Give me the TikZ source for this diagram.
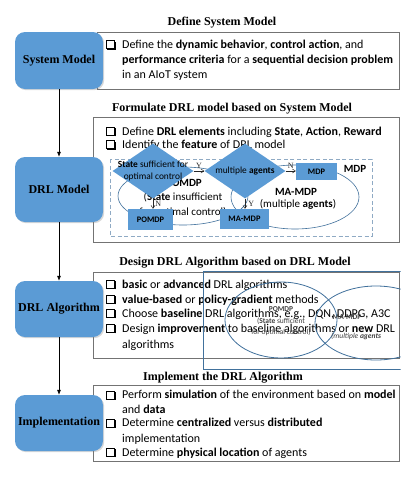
\documentclass[tikz,border=0pt]{standalone}
\usepackage{fontspec}
\setmainfont{Carlito}
\newfontfamily\tmsfont{Liberation Serif}
\usetikzlibrary{shapes.geometric,shadows,arrows.meta}
\definecolor{oblue}{HTML}{5B9BD5}
\definecolor{dblue}{HTML}{41719C}
\definecolor{dashc}{HTML}{8FAAC4}
\newcommand{\cbx}{\makebox[16pt][l]{%
  \rlap{\fboxsep=0pt\fboxrule=0.6pt\fbox{\rule{0pt}{7.4pt}\hspace{7.4pt}}}%
  \rlap{\hspace{8.6pt}\raisebox{-1.3pt}{\rule{1.3pt}{8pt}}}%
  \rlap{\hspace{1.2pt}\raisebox{-1.3pt}{\rule{8.7pt}{1.3pt}}}}}
\tikzset{
  blk/.style={rounded corners=10pt, fill=oblue, minimum width=88pt, inner sep=0pt,
    font=\tmsfont\bfseries\fontsize{12}{14}\selectfont,
    drop shadow={shadow xshift=1.2pt, shadow yshift=-1.2pt, opacity=0.3}},
  panel/.style={draw=black!55, line width=0.8pt, fill=white, inner sep=0pt,
    drop shadow={shadow xshift=1pt, shadow yshift=-1pt, opacity=0.25}},
  ttl/.style={font=\tmsfont\bfseries\fontsize{12}{14}\selectfont, inner sep=0pt},
  txt/.style={anchor=west, inner sep=0pt, font=\fontsize{12}{13}\selectfont},
  dia/.style={diamond, fill=oblue, inner sep=0pt, minimum width=81pt, minimum height=55pt},
  dtxt/.style={inner sep=0pt, align=center, font=\fontsize{9.4}{12}\selectfont},
  sbox/.style={fill=oblue, inner sep=0pt, font=\bfseries\fontsize{8.4}{9}\selectfont},
  etxt/.style={inner sep=0pt, font=\fontsize{11}{12}\selectfont},
  ell/.style={draw=dblue, line width=0.6pt},
  mini/.style={inner sep=0pt, font=\fontsize{7.5}{8}\selectfont, text=black!75},
  yn/.style={inner sep=0pt, font=\tmsfont\fontsize{8}{8}\selectfont},
  arr/.style={-{Latex[length=5pt,width=4pt]}, line width=0.6pt},
  sarr/.style={-{Straight Barb[length=3pt,width=4pt]}, line width=0.5pt, black!85},
}
\begin{document}
\begin{tikzpicture}[x=1pt,y=-1pt]
\useasboundingbox (0,0) rectangle (415,477);
\fill[white] (0,0) rectangle (415,477);

% titles
\node[ttl] (t1) at (222,23) {Define System Model};
\node[ttl] (t2) at (232,109) {Formulate DRL model based on System Model};
\node[ttl] (t3) at (235,263) {Design DRL Algorithm based on DRL Model};
\node[ttl] (t4) at (223,378) {Implement the DRL Algorithm};

% panels
\node[panel, minimum width=302pt, minimum height=57pt] (p1) at (248,60.5) {};
\node[panel, minimum width=306pt, minimum height=125pt] (p2) at (246,179.5) {};
\node[panel, minimum width=306pt, minimum height=86pt] (p3) at (246,315) {};
\node[panel, minimum width=306pt, minimum height=76pt] (p4) at (246,423) {};

% panel 1 text
\node[txt] (a1) at (106,45) {\cbx Define the \textbf{dynamic behavior}, \textbf{control action}, and};
\node[txt] (a2) at (122,60) {\textbf{performance criteria} for a \textbf{sequential decision problem}};
\node[txt] (a3) at (122,75) {in an AIoT system};

% panel 2 text
\node[txt] (b1) at (106,132) {\cbx Define \textbf{DRL elements} including \textbf{State}, \textbf{Action}, \textbf{Reward}};
\node[txt] (b2) at (106,145) {\cbx Identify the \textbf{feature} of DRL model};

% DRL model inner figure
\draw[dashc, dashed, dash pattern=on 4pt off 2.5pt, line width=0.9pt] (110,159) rectangle (372,236);
\draw[ell] (183,196) ellipse [x radius=65, y radius=29];
\draw[ell] (295,197) ellipse [x radius=64, y radius=32];
\node[etxt] (e1) at (184,183) {\textbf{POMDP}};
\node[etxt] (e2) at (183,197) {(\textbf{State} insufficient};
\node[etxt] (e3) at (183,212) {for optimal control)};
\node[etxt] (e4) at (296,192) {\textbf{MA-MDP}};
\node[etxt] (e5) at (298,204) {(multiple \textbf{agents})};
\node[etxt] (e6) at (355,169) {\textbf{MDP}};

\node[dia] (d1) at (153,171) {};
\node[dia] (d2) at (245,171) {};
\node[dtxt] (d1t) at (153,171) {\textbf{State} sufficient for\\optimal control};
\node[dtxt] (d2t) at (245,171) {multiple \textbf{agents}};

\node[sbox, minimum width=41pt, minimum height=17pt] (mdp) at (316.5,171.5) {MDP};
\node[sbox, minimum width=45pt, minimum height=21pt] (pomdp) at (150.5,219.5) {POMDP};
\node[sbox, minimum width=49pt, minimum height=20pt] (mamdp) at (244.5,219) {MA-MDP};

\draw[sarr] (d1.east) -- (d2.west) node[yn, midway, above=2pt] {Y};
\draw[sarr] (d2.east) -- (d2.east -| mdp.west) node[yn, midway, above=2pt] {N};
\draw[sarr] (d1.south) -- (d1.south |- pomdp.north) node[yn, midway, right=2pt] {N};
\draw[sarr] (d2.south) -- (d2.south |- mamdp.north) node[yn, midway, right=3pt] {Y};

% panel 3 text
\node[txt] (c1) at (106,285) {\cbx \textbf{basic} or \textbf{advanced} DRL algorithms};
\node[txt] (c2) at (106,300) {\cbx \textbf{value-based} or \textbf{policy-gradient} methods};
\node[txt] (c3) at (106,314) {\cbx Choose \textbf{baseline} DRL algorithms, e.g., DQN, DDPG, A3C};
\node[txt] (c4) at (106,329) {\cbx Design \textbf{improvement} to baseline algorithms or \textbf{new} DRL};
\node[txt] (c5) at (122,345) {algorithms};

% stray overlay in panel 3
\begin{scope}
\clip (190,250) rectangle (400.5,380);
\draw[ell, line width=0.8pt] (400.5,271) -- (203,271) -- (203,369) -- (400.5,369);
\draw[ell, line width=0.8pt] (281,320) ellipse [x radius=56, y radius=38];
\draw[ell, line width=0.8pt] (376,323) ellipse [x radius=61, y radius=37];
\node[mini] (m1) at (281,309) {\textbf{POMDP}};
\node[mini] (m2) at (281,321) {(\textbf{State} sufficient};
\node[mini] (m3) at (281,332) {for optimal control)};
\node[mini] (m4) at (347,317) {\textbf{MA-MDP}};
\node[mini, anchor=west] (m5) at (331,336) {\itshape (multiple \textbf{agents}};
\end{scope}

% panel 4 text
\node[txt] (f1) at (106,395) {\cbx Perform \textbf{simulation} of the environment based on \textbf{model}};
\node[txt] (f2) at (122,409) {and \textbf{data}};
\node[txt] (f3) at (106,423) {\cbx Determine \textbf{centralized} versus \textbf{distributed}};
\node[txt] (f4) at (122,439) {implementation};
\node[txt] (f5) at (106,453) {\cbx Determine \textbf{physical location} of agents};

% blue step boxes
\node[blk, minimum height=57pt] (sys) at (59,60.5) {System Model};
\node[blk, minimum height=65pt] (drl) at (59,189.5) {DRL Model};
\node[blk, minimum height=56pt] (alg) at (59,309) {DRL Algorithm};
\node[blk, minimum height=56pt] (imp) at (59,423) {Implementation};

\draw[arr] (sys.south) -- (drl.north);
\draw[arr] (drl.south) -- (alg.north);
\draw[arr] (alg.south) -- (imp.north);
\end{tikzpicture}
\end{document}
